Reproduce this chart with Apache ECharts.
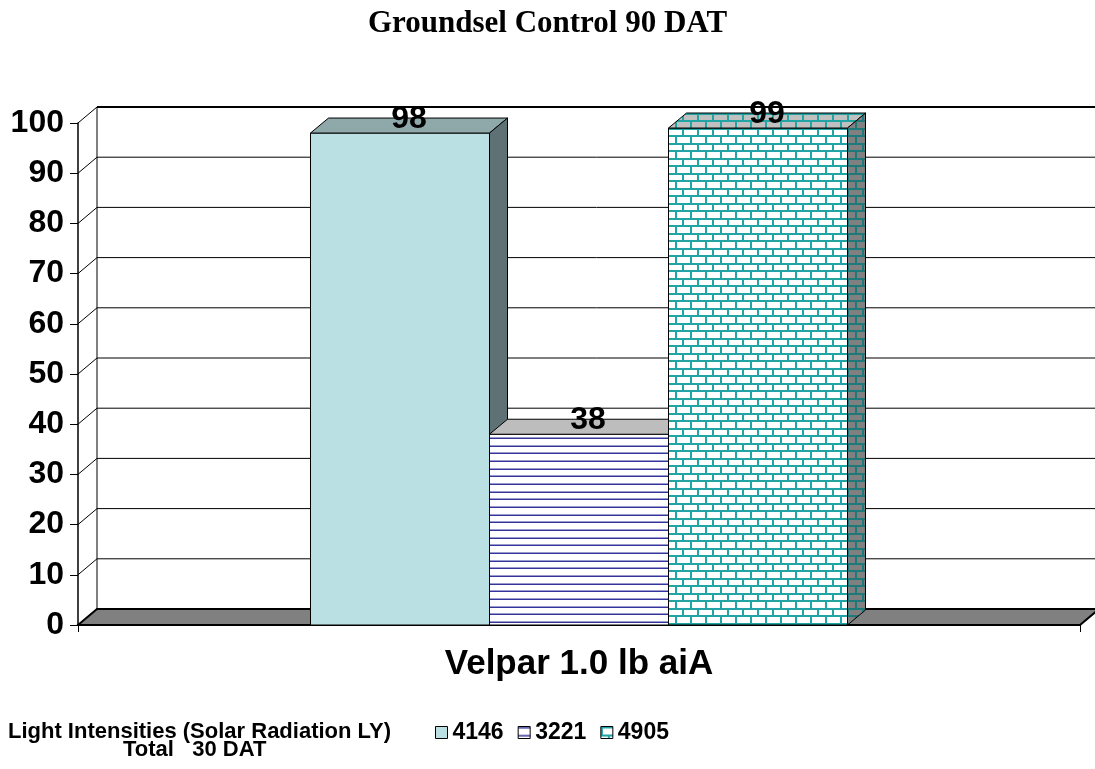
<!DOCTYPE html>
<html>
<head>
<meta charset="utf-8">
<script src="https://cdn.jsdelivr.net/npm/echarts@6/dist/echarts.min.js"></script>
<style>
  html, body { margin: 0; padding: 0; background: #fff; }
  #main { width: 1095px; height: 769px; }
</style>
</head>
<body>
<div id="main"></div>
<script>
  // data
  var categories = ['Velpar 1.0 lb aiA'];
  var seriesNames = ['4146', '3221', '4905'];
  var control98 = [98];
  var control38 = [38];
  var control99 = [99];
  var yTicks = [0, 10, 20, 30, 40, 50, 60, 70, 80, 90, 100];

  var SANS = "'Liberation Sans', Arial, sans-serif";
  var SERIF = "'Liberation Serif', 'Times New Roman', serif";

  // fill patterns
  function stripes(bg, dark, light) {
    var c = document.createElement('canvas');
    c.width = 4; c.height = 23;
    var g = c.getContext('2d');
    g.fillStyle = bg; g.fillRect(0, 0, 4, 23);
    [0, 8, 15].forEach(function (y) {
      g.fillStyle = light; g.fillRect(0, y, 4, 1);
      g.fillStyle = dark; g.fillRect(0, y + 1, 4, 1);
    });
    return { image: c, repeat: 'repeat' };
  }
  function bricks(bg, mortar) {
    var c = document.createElement('canvas');
    c.width = 15; c.height = 15;
    var g = c.getContext('2d');
    g.fillStyle = bg; g.fillRect(0, 0, 15, 15);
    g.fillStyle = mortar;
    g.fillRect(0, 0, 15, 2);
    g.fillRect(0, 8, 15, 2);
    g.fillRect(0, 0, 2, 8);
    g.fillRect(7, 8, 2, 7);
    return { image: c, repeat: 'repeat' };
  }

  var faces = [
    { front: '#BAE0E3', top: '#8FA8AA', side: '#5E7174' },
    { front: stripes('#ffffff', '#34349C', '#9A9ACC'), top: '#BDBDBD', side: stripes('#808080', '#34349C', '#9090B0') },
    { front: bricks('#ffffff', '#22A4A4'), top: bricks('#C0C0C0', '#22A4A4'), side: bricks('#808080', '#1E7A7A') }
  ];

  var BAR_SHARE = 179 / 1002;   // bar width as a share of the category band
  var BAR_DX = 18, BAR_DY = -15; // bar depth
  var WALL_DX = 19, WALL_DY = -16;

  function renderFrame(params, api) {
    var cs = params.coordSys;
    var left = cs.x, right = cs.x + cs.width, bottom = cs.y + cs.height;
    var kids = [];
    var topY = api.coord([0, yTicks[yTicks.length - 1]])[1];
    // back wall
    kids.push({ type: 'rect', shape: { x: left + WALL_DX, y: topY + WALL_DY, width: cs.width + 40, height: bottom - topY },
      style: { fill: '#fff', stroke: '#000', lineWidth: 1 } });
    yTicks.forEach(function (v) {
      var y = api.coord([0, v])[1];
      kids.push({ type: 'line', shape: { x1: left + WALL_DX, y1: y + WALL_DY, x2: right + 60, y2: y + WALL_DY },
        style: { stroke: '#000', lineWidth: v === 100 ? 2 : 1 } });
      kids.push({ type: 'line', shape: { x1: left, y1: y, x2: left + WALL_DX, y2: y + WALL_DY },
        style: { stroke: '#000', lineWidth: 1 } });
    });
    // floor
    kids.push({ type: 'polygon', shape: { points: [[left, bottom], [right, bottom], [right + WALL_DX, bottom + WALL_DY], [left + WALL_DX, bottom + WALL_DY]] },
      style: { fill: '#808080', stroke: '#000', lineWidth: 2 } });
    return { type: 'group', children: kids };
  }

  function barRender(k) {
    var f = faces[k];
    return function (params, api) {
      var base = api.coord([api.value(0), 0]);
      var top = api.coord([api.value(0), api.value(1)]);
      var w = api.size([1, 0])[0] * BAR_SHARE;
      var x0 = base[0] + (k - 1) * w - w / 2, x1 = x0 + w;
      var y0 = base[1], y1 = top[1];
      return { type: 'group', children: [
        { type: 'rect', shape: { x: x0, y: y1, width: w, height: y0 - y1 }, style: { fill: f.front, stroke: '#000', lineWidth: 1 } },
        { type: 'polygon', shape: { points: [[x0, y1], [x1, y1], [x1 + BAR_DX, y1 + BAR_DY], [x0 + BAR_DX, y1 + BAR_DY]] }, style: { fill: f.top, stroke: '#000', lineWidth: 1 } },
        { type: 'polygon', shape: { points: [[x1, y1], [x1 + BAR_DX, y1 + BAR_DY], [x1 + BAR_DX, y0 + BAR_DY], [x1, y0]] }, style: { fill: f.side, stroke: '#000', lineWidth: 1 } },
        { type: 'text', x: (x0 + x1) / 2 + BAR_DX / 2, y: y1 + BAR_DY + 1, z2: 50,
          style: { text: String(api.value(1)), fill: '#000', font: 'bold 32px ' + SANS,
            textAlign: 'center', textVerticalAlign: 'middle', align: 'center', verticalAlign: 'middle' } }
      ] };
    };
  }

  function toData(vals) {
    return vals.map(function (v, i) { return [i, v]; });
  }

  var seriesVals = [control98, control38, control99];
  var barSeries = seriesVals.map(function (vals, k) {
    return {
      name: seriesNames[k],
      type: 'custom',
      z: 3 + k,
      renderItem: barRender(k),
      itemStyle: { color: faces[k].front },
      encode: { x: 0, y: 1 },
      data: toData(vals)
    };
  });

  var chart = echarts.init(document.getElementById('main'), null, { renderer: 'canvas' });
  chart.setOption({
    animation: false,
    backgroundColor: '#fff',
    title: [
      { text: 'Groundsel Control 90 DAT', left: 'center', top: 3,
        textStyle: { fontFamily: SERIF, fontWeight: 'bold', fontSize: 31, color: '#000' } },
      { text: 'Light Intensities (Solar Radiation LY)', left: 3, top: 716,
        textStyle: { fontFamily: SANS, fontWeight: 'bold', fontSize: 22, color: '#000' } },
      { text: 'Total   30 DAT', left: 118, top: 734,
        textStyle: { fontFamily: SANS, fontWeight: 'bold', fontSize: 22, color: '#000' } }
    ],
    legend: {
      data: seriesNames,
      left: 430, top: 716,
      icon: 'rect', itemWidth: 12, itemHeight: 12, itemGap: 14,
      itemStyle: { borderColor: '#000', borderWidth: 1 },
      textStyle: { fontFamily: SANS, fontWeight: 'bold', fontSize: 23, color: '#000', padding: [0, 0, 0, 0] }
    },
    grid: { left: 78, right: 15, top: 123, bottom: 144, outerBoundsMode: 'none', containLabel: false },
    xAxis: {
      type: 'category',
      data: categories,
      boundaryGap: true,
      axisLine: { lineStyle: { color: '#000', width: 2 } },
      axisTick: { show: true, length: 7, lineStyle: { color: '#000', width: 1 } },
      axisLabel: { color: '#000', fontFamily: SANS, fontWeight: 'bold', fontSize: 35, margin: 22 },
      splitLine: { show: false }
    },
    yAxis: {
      type: 'value',
      min: 0, max: 100, interval: 10,
      axisLine: { show: true, lineStyle: { color: '#000', width: 1.5 } },
      axisTick: { show: true, length: 8, lineStyle: { color: '#000', width: 1 } },
      axisLabel: { color: '#000', fontFamily: SANS, fontWeight: 'bold', fontSize: 32, margin: 14 },
      splitLine: { show: false }
    },
    series: [{
      type: 'custom',
      silent: true,
      z: 1,
      renderItem: renderFrame,
      data: [[0, 0]]
    }].concat(barSeries)
  });
</script>
</body>
</html>
